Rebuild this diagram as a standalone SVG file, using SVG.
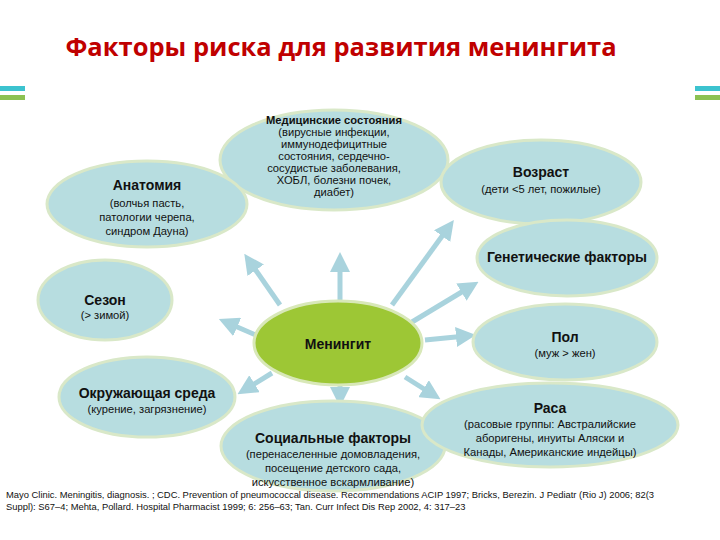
<svg xmlns="http://www.w3.org/2000/svg" width="720" height="540" viewBox="0 0 720 540">
<style>
.n{fill:#b7dde0;stroke:#d9e8c8;stroke-width:3}
.t{font-family:"Liberation Sans",Arial,sans-serif;text-anchor:middle;fill:#111}
.b{font-weight:bold;font-size:14px}
.s{font-size:11.2px}
.c{stroke:#a9d3dd;stroke-width:5;fill:none;marker-end:url(#ah)}
</style>
<defs><marker id="ah" markerWidth="4" markerHeight="4" refX="2" refY="2" orient="auto" markerUnits="strokeWidth"><path d="M0,0L4,2L0,4z" fill="#a9d3dd"/></marker></defs>
<rect width="720" height="540" fill="#fff"/>
<rect x="0" y="86" width="25" height="5" fill="#3cc3cf"/><rect x="0" y="95" width="25" height="5" fill="#8cc152"/>
<rect x="695" y="86" width="25" height="5" fill="#3cc3cf"/><rect x="695" y="95" width="25" height="5" fill="#8cc152"/>
<text x="341" y="56" font-family="'Open Sans','Liberation Sans',sans-serif" font-weight="bold" font-size="25.5" fill="#c00000" text-anchor="middle">Факторы риска для развития менингита</text>
<g id="connectors">
<line class="c" x1="280" y1="305" x2="250" y2="262"/>
<line class="c" x1="340" y1="300" x2="340" y2="262"/>
<line class="c" x1="392" y1="305" x2="448" y2="228"/>
<line class="c" x1="412" y1="322" x2="470" y2="287"/>
<line class="c" x1="258" y1="336" x2="228" y2="323"/>
<line class="c" x1="425" y1="340" x2="466" y2="336"/>
<line class="c" x1="272" y1="373" x2="246" y2="389"/>
<line class="c" x1="340" y1="386" x2="340" y2="397"/>
<line class="c" x1="405" y1="377" x2="432" y2="394"/>
</g>
<g id="med"><ellipse class="n" cx="334" cy="160" rx="114" ry="50"/>
<text class="t s" x="334" y="124" font-size="10.5"><tspan font-weight="bold">Медицинские состояния</tspan><tspan x="334" dy="12">(вирусные инфекции,</tspan><tspan x="334" dy="12">иммунодефицитные</tspan><tspan x="334" dy="12">состояния, сердечно-</tspan><tspan x="334" dy="12">сосудистые  заболевания,</tspan><tspan x="334" dy="12">ХОБЛ, болезни почек,</tspan><tspan x="334" dy="12">диабет)</tspan></text></g>
<g id="anat"><ellipse class="n" cx="147" cy="204" rx="100" ry="43"/>
<text class="t b" x="147" y="190">Анатомия</text>
<text class="t s" x="147" y="207"><tspan>(волчья пасть,</tspan><tspan x="147" dy="14">патологии черепа,</tspan><tspan x="147" dy="14">синдром Дауна)</tspan></text></g>
<g id="age"><ellipse class="n" cx="541" cy="182" rx="100" ry="42"/>
<text class="t b" x="541" y="177">Возраст</text><text class="t s" x="541" y="193">(дети  &lt;5 лет, пожилые)</text></g>
<g id="gen"><ellipse class="n" cx="567" cy="258" rx="90" ry="38"/>
<text class="t b" x="567" y="262" font-size="12.5">Генетические факторы</text></g>
<g id="season"><ellipse class="n" cx="105" cy="300" rx="67" ry="40"/>
<text class="t b" x="105" y="305" font-size="12.5">Сезон</text><text class="t s" x="105" y="319">(&gt; зимой)</text></g>
<g id="mening"><ellipse cx="338" cy="343" rx="84" ry="42" fill="#9dc735" stroke="#d8e8b8" stroke-width="3"/>
<text class="t b" x="338" y="349" font-size="16">Менингит</text></g>
<g id="sex"><ellipse class="n" cx="565" cy="342" rx="92" ry="38"/>
<text class="t b" x="565" y="342">Пол</text><text class="t s" x="565" y="357">(муж &gt; жен)</text></g>
<g id="env"><ellipse class="n" cx="147" cy="397" rx="88" ry="40"/>
<text class="t b" x="147" y="398">Окружающая среда</text><text class="t s" x="147" y="413">(курение, загрязнение)</text></g>
<g id="soc"><ellipse class="n" cx="333" cy="446" rx="112" ry="45"/>
<text class="t b" x="333" y="443">Социальные факторы</text>
<text class="t s" x="333" y="458"><tspan>(перенаселенные домовладения,</tspan><tspan x="333" dy="14">посещение детского сада,</tspan><tspan x="333" dy="14">искусственное вскармливание)</tspan></text></g>
<g id="race"><ellipse class="n" cx="550" cy="425" rx="128" ry="42"/>
<text class="t b" x="550" y="413">Раса</text>
<text class="t s" x="550" y="428"><tspan>(расовые группы: Австралийские</tspan><tspan x="550" dy="14">аборигены, инуиты Аляски и</tspan><tspan x="550" dy="14">Канады, Американские индейцы)</tspan></text></g>
<text font-family="'Liberation Sans',Arial,sans-serif" font-size="9.4" fill="#111" x="6" y="498">Mayo Clinic. Meningitis, diagnosis. ; CDC.  Prevention of pneumococcal disease. Recommendations ACIP 1997; Bricks, Berezin. J Pediatr (Rio J) 2006; 82(3</text>
<text font-family="'Liberation Sans',Arial,sans-serif" font-size="9.4" fill="#111" x="6" y="510">Suppl): S67–4; Mehta, Pollard. Hospital Pharmacist 1999; 6: 256–63; Tan. Curr Infect Dis Rep 2002, 4: 317–23</text>
</svg>
